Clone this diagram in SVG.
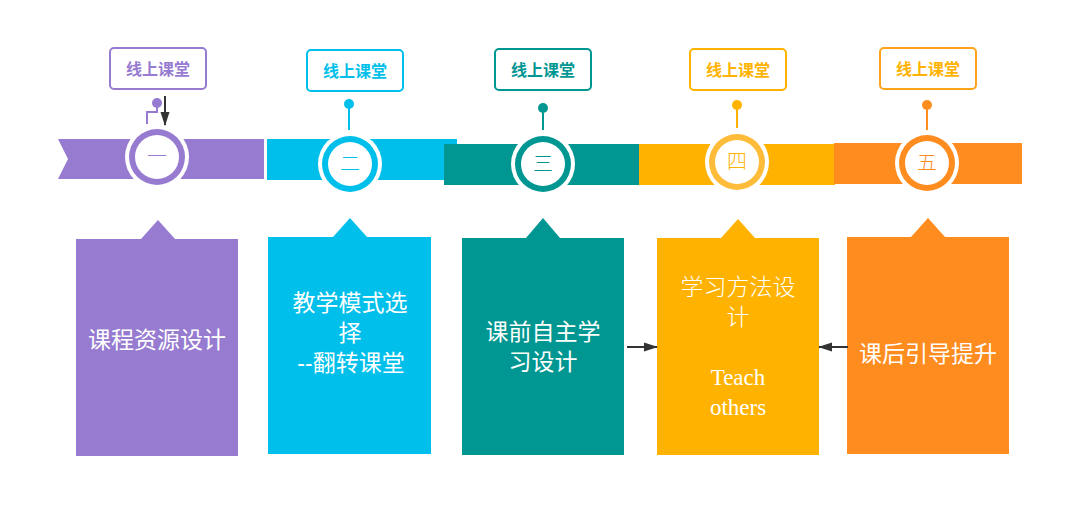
<svg xmlns="http://www.w3.org/2000/svg" width="1082" height="518" viewBox="0 0 1082 518">
<style>
.lbl{fill:#fff;stroke-width:2}
.lt{font-family:"Noto Sans CJK SC",sans-serif;font-weight:700;font-size:16px;text-anchor:middle}
.bt{font-family:"Liberation Sans","Noto Sans CJK SC",sans-serif;font-weight:400;font-size:23px;fill:#fff;text-anchor:middle}
.st{font-family:"Liberation Serif","Noto Sans CJK SC",serif;font-weight:300;font-size:23px;fill:#fff;text-anchor:middle}
.num{font-family:"Noto Sans CJK SC",sans-serif;font-weight:300;font-size:20px;text-anchor:middle}
.halo{fill:#fff}
.inner{fill:#fff}
.conn{stroke:#333;stroke-width:2;fill:none}
</style>
<defs>
<marker id="ah" viewBox="0 0 14 10" refX="13" refY="5" markerWidth="7" markerHeight="5" orient="auto-start-reverse">
<path d="M0,0.5 L14,5 L0,9.5 Z" fill="#333"/>
</marker>
</defs>
<rect width="1082" height="518" fill="#fff"/>

<!-- bands -->
<g id="bands">
<polygon points="58,139 264,139 264,179 58,179 68,159" fill="#967BD0"/>
<rect x="267" y="139" width="190" height="41" fill="#00BFEA"/>
<rect x="444" y="144" width="195" height="41" fill="#009691"/>
<rect x="639" y="144" width="196" height="41" fill="#FFB300"/>
<rect x="834" y="143" width="188" height="41" fill="#FF8C1F"/>
</g>

<g id="node1">
<rect class="lbl" x="110" y="48" width="96" height="41" rx="4" stroke="#967BD0"/>
<text class="lt" x="158" y="75" fill="#967BD0">线上课堂</text>
<circle cx="157" cy="103" r="5" fill="#967BD0"/>
<polyline points="157,103 157,112 147,112 147,124" fill="none" stroke="#967BD0" stroke-width="2"/>
<circle class="halo" cx="157" cy="157" r="32"/>
<circle cx="157" cy="157" r="28" fill="#967BD0"/>
<circle class="inner" cx="157" cy="157" r="22"/>
<text class="num" x="157" y="164" fill="#967BD0" font-weight="500">一</text>
<polygon points="76,239 141,239 158,220 175,239 238,239 238,456 76,456" fill="#967BD0"/>
<text class="bt" x="157" y="348">课程资源设计</text>
</g>

<g id="node2">
<rect class="lbl" x="307" y="50" width="96" height="41" rx="4" stroke="#00BFEA"/>
<text class="lt" x="355" y="77" fill="#00BFEA">线上课堂</text>
<circle cx="349" cy="104" r="5" fill="#00BFEA"/>
<line x1="349" y1="104" x2="349" y2="130" stroke="#00BFEA" stroke-width="2"/>
<circle class="halo" cx="350" cy="164" r="32"/>
<circle cx="350" cy="164" r="28" fill="#00BFEA"/>
<circle class="inner" cx="350" cy="164" r="22"/>
<text class="num" x="350" y="171" fill="#00BFEA">二</text>
<polygon points="268,237 333,237 350,218 367,237 431,237 431,454 268,454" fill="#00BFEA"/>
<text class="bt" x="350" y="311">教学模式选</text>
<text class="bt" x="350" y="341">择</text>
<text class="bt" x="351" y="371">--翻转课堂</text>
</g>

<g id="node3">
<rect class="lbl" x="495" y="49" width="96" height="41" rx="4" stroke="#009691"/>
<text class="lt" x="543" y="76" fill="#009691">线上课堂</text>
<circle cx="543" cy="108" r="5" fill="#009691"/>
<line x1="543" y1="108" x2="543" y2="130" stroke="#009691" stroke-width="2"/>
<circle class="halo" cx="543" cy="164" r="32"/>
<circle cx="543" cy="164" r="28" fill="#009691"/>
<circle class="inner" cx="543" cy="164" r="22"/>
<text class="num" x="543" y="171" fill="#009691">三</text>
<polygon points="462,238 526,238 543,218 560,238 624,238 624,455 462,455" fill="#009691"/>
<text class="bt" x="543" y="340">课前自主学</text>
<text class="bt" x="543" y="370">习设计</text>
</g>

<g id="node4">
<rect class="lbl" x="690" y="49" width="96" height="41" rx="4" stroke="#FFB300"/>
<text class="lt" x="738" y="76" fill="#FFB300">线上课堂</text>
<circle cx="737" cy="105" r="5" fill="#FFB300"/>
<line x1="737" y1="105" x2="737" y2="128" stroke="#FFB300" stroke-width="2"/>
<circle class="halo" cx="737" cy="162" r="32"/>
<circle cx="737" cy="162" r="28" fill="#FFBC3A"/>
<circle class="inner" cx="737" cy="162" r="22"/>
<text class="num" x="737" y="169" fill="#FFB300">四</text>
<polygon points="657,238 721,238 738,219 755,238 819,238 819,455 657,455" fill="#FFB300"/>
<text class="st" x="738" y="295">学习方法设</text>
<text class="st" x="738" y="325">计</text>
<text class="st" x="738" y="385">Teach</text>
<text class="st" x="738" y="415">others</text>
</g>

<g id="node5">
<rect class="lbl" x="880" y="48" width="96" height="41" rx="4" stroke="#FFA31A"/>
<text class="lt" x="928" y="75" fill="#FFB300">线上课堂</text>
<circle cx="927" cy="105" r="5" fill="#FF8C1F"/>
<line x1="927" y1="105" x2="927" y2="130" stroke="#FF8C1F" stroke-width="2"/>
<circle class="halo" cx="927" cy="163" r="32"/>
<circle cx="927" cy="163" r="28" fill="#FF8C1F"/>
<circle class="inner" cx="927" cy="163" r="22"/>
<text class="num" x="927" y="170" fill="#FF8C1F">五</text>
<polygon points="847,237 911,237 928,218 945,237 1009,237 1009,454 847,454" fill="#FF8C1F"/>
<text class="bt" x="928" y="362">课后引导提升</text>
</g>

<g id="connectors">
<line class="conn" x1="165" y1="96" x2="165" y2="125" marker-end="url(#ah)"/>
<line class="conn" x1="627" y1="347" x2="657" y2="347" marker-end="url(#ah)"/>
<line class="conn" x1="848" y1="347" x2="819" y2="347" marker-end="url(#ah)"/>
</g>
</svg>
